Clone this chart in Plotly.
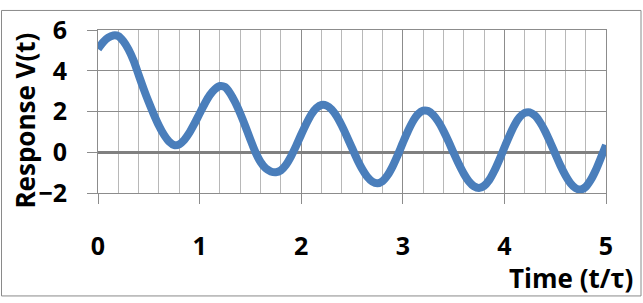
import plotly.graph_objects as go

# Time (t/tau), sampled every 0.05
time = [round(i * 0.05, 2) for i in range(101)]
response = [
    5.07, 5.40, 5.62, 5.73, 5.70, 5.45, 5.05, 4.50, 3.80, 3.10,
    2.45, 1.85, 1.30, 0.85, 0.52, 0.35, 0.39, 0.61, 0.96, 1.41,
    1.90, 2.38, 2.80, 3.09, 3.25, 3.20, 2.90, 2.45, 1.90, 1.28,
    0.62, 0.00, -0.48, -0.79, -0.94, -0.98, -0.89, -0.62, -0.20, 0.31,
    0.87, 1.40, 1.86, 2.17, 2.32, 2.29, 2.10, 1.76, 1.30, 0.77,
    0.21, -0.34, -0.82, -1.20, -1.44, -1.52, -1.42, -1.13, -0.69, -0.14,
    0.46, 1.03, 1.52, 1.87, 2.04, 2.02, 1.83, 1.50, 1.05, 0.53,
    -0.03, -0.57, -1.05, -1.43, -1.67, -1.75, -1.65, -1.37, -0.92, -0.37,
    0.23, 0.82, 1.34, 1.72, 1.93, 1.96, 1.80, 1.48, 1.04, 0.50,
    -0.07, -0.64, -1.13, -1.52, -1.76, -1.83, -1.70, -1.36, -0.87, -0.27,
    0.35,
]

W, H = 643, 303
L, R, T, B = 98, 37, 22, 110
pw, ph = W - L - R, H - T - B

def px_x(p):
    return (p - L) / pw

def px_y(p):
    return (H - B - p) / ph

FONT = "Open Sans"
GRID = "#8c8c8c"
fig = go.Figure()
fig.add_trace(go.Scatter(
    x=time, y=response, mode="lines",
    line=dict(color="#4a7ebb", width=8, shape="spline", smoothing=0.8),
    hoverinfo="skip", showlegend=False,
))

fig.update_layout(
    width=W, height=H, autosize=False,
    margin=dict(l=L, r=R, t=T, b=B, pad=0),
    paper_bgcolor="white", plot_bgcolor="white",
    showlegend=False,
    xaxis=dict(
        range=[0, 5], tick0=0, dtick=1,
        showgrid=True, gridcolor=GRID, gridwidth=1,
        minor=dict(dtick=0.2, tick0=0, showgrid=True, gridcolor="#b8b8b8", gridwidth=1, ticks=""),
        ticks="outside", ticklen=10, tickcolor=GRID, tickwidth=1,
        ticklabelstandoff=21,
        zeroline=False, showline=True, linecolor=GRID, linewidth=1, mirror=True,
        tickfont=dict(family=FONT, size=25, color="black", weight="bold"),
    ),
    yaxis=dict(
        range=[-2, 6], tick0=0, dtick=2,
        showgrid=True, gridcolor=GRID, gridwidth=1,
        ticks="outside", ticklen=10, tickcolor=GRID, tickwidth=1,
        ticklabelstandoff=15,
        zeroline=True, zerolinecolor="#808080", zerolinewidth=3,
        showline=True, linecolor=GRID, linewidth=1, mirror=True,
        tickfont=dict(family=FONT, size=25, color="black", weight="bold"),
    ),
    annotations=[
        dict(text="Response V(t)", xref="paper", yref="paper",
             x=px_x(25), y=px_y(117), xanchor="center", yanchor="middle",
             textangle=-90, showarrow=False,
             font=dict(family=FONT, size=26, color="black", weight="bold")),
        dict(text="Time (t/τ)", xref="paper", yref="paper",
             x=px_x(635), y=px_y(282), xanchor="right", yanchor="middle",
             showarrow=False,
             font=dict(family=FONT, size=26, color="black", weight="bold")),
    ],
    shapes=[
        dict(type="rect", xref="paper", yref="paper",
             x0=px_x(1.5), x1=px_x(641), y0=px_y(301), y1=px_y(1.5),
             line=dict(color="#8a8a8a", width=1), fillcolor="rgba(0,0,0,0)",
             layer="above"),
    ],
)

fig.write_html("out.html")
